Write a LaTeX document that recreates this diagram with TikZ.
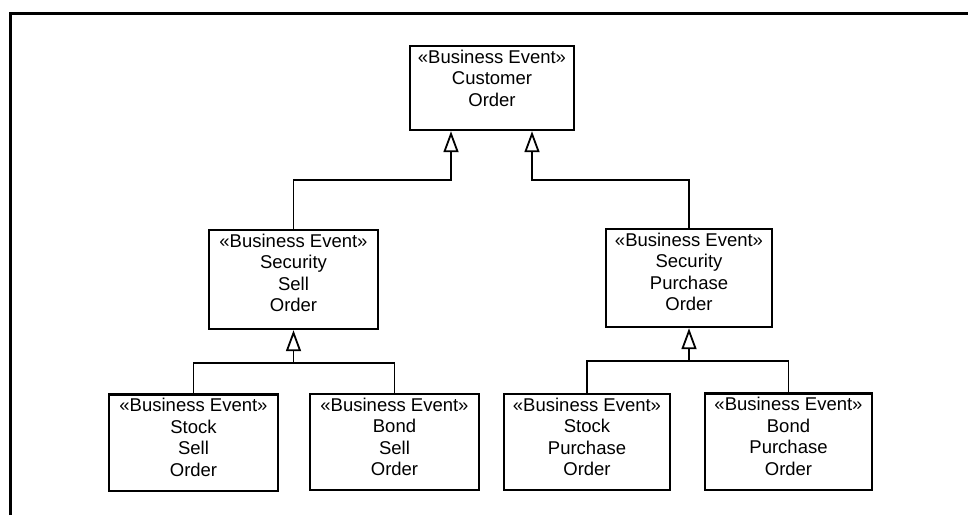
\documentclass[tikz,border=0pt]{standalone}
\usepackage{fontspec}
\setmainfont{Liberation Sans}
\usetikzlibrary{arrows.meta,calc}

\begin{document}
\begin{tikzpicture}[x=1pt,y=-1pt,line width=1.8pt,
  event/.style={draw,line width=2.2pt,align=center,inner sep=4pt,minimum width=167pt,
    text depth=10.3pt,font=\fontsize{18.5}{21.5}\selectfont},
  gen/.style={-{Triangle[open,length=21pt,width=15pt]}}]
\useasboundingbox (0,0) rectangle (968,515);
% frame
\draw[line width=3pt] (10.5,515) -- (10.5,13) -- (968,13);
% events
\node[event,minimum width=164pt,text depth=19.8pt] (cust) at (492,88) {«Business Event»\\Customer\\Order};
\node[event,minimum width=169pt,text depth=13.3pt] (sell) at (293.5,279.5) {«Business Event»\\Security\\Sell\\Order};
\node[event,minimum width=166pt,text depth=12.3pt] (purch) at (689,278) {«Business Event»\\Security\\Purchase\\Order};
\node[event,minimum width=169pt] (stocksell) at (193.5,442.5) {«Business Event»\\Stock\\Sell\\Order};
\node[event,minimum width=169pt] (bondsell) at (394.5,442) {«Business Event»\\Bond\\Sell\\Order};
\node[event,minimum width=166pt] (stockpurch) at (587,442) {«Business Event»\\Stock\\Purchase\\Order};
\node[event] (bondpurch) at (788.5,441.5) {«Business Event»\\Bond\\Purchase\\Order};
% generalisations to customer order
\draw[gen] (sell.north) |- ($(cust.south)+(-41,49)$) -- ++(0,-49);
\draw[gen] (purch.north) |- ($(cust.south)+(40,49)$) -- ++(0,-49);
% sell orders
\coordinate (sj) at ($(sell.south)+(0,33)$);
\draw[gen] (sj) -- (sell.south);
\draw (stocksell.north) |- (sj) -| (bondsell.north);
% purchase orders
\coordinate (pj) at ($(purch.south)+(0,33)$);
\draw[gen] (pj) -- (purch.south);
\draw (stockpurch.north) |- (pj) -| (bondpurch.north);
\end{tikzpicture}
\end{document}
